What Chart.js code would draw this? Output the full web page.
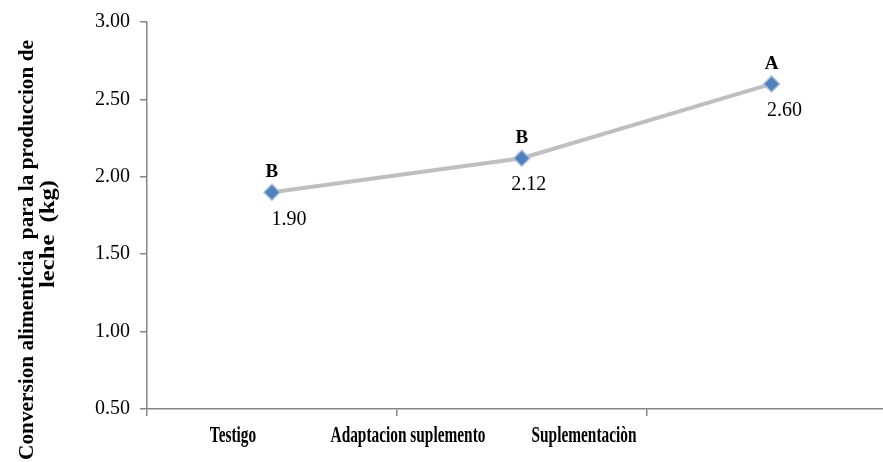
<!DOCTYPE html>
<html>
<head>
<meta charset="utf-8">
<script src="https://cdn.jsdelivr.net/npm/chart.js@4"></script>
<style>
html,body{margin:0;padding:0;background:#fff;overflow:hidden;}
#wrap{width:883px;height:462px;position:relative;overflow:hidden;}
</style>
</head>
<body>
<div id="wrap"><canvas id="c" width="906" height="462"></canvas></div>
<script>
// ---- data ----
const categories = ["Testigo", "Adaptacion suplemento", "Suplementaciòn"];
const values = [1.90, 2.12, 2.60];
const letters = ["B", "B", "A"];
const yTitleLines = ["Conversion alimenticia  para la produccion de", "leche  (kg)"];
const yMin = 0.5, yMax = 3.0, yStep = 0.5;

// ---- styles / positions ----
const SERIF = '"Liberation Serif", "Times New Roman", serif';
const axisColor = '#868686';
const valueDx = [17, 7, 13];
const xLabelCenters = [233, 408, 584]; // visual label positions (px)

const annotPlugin = {
  id: 'annot',
  afterDraw(chart) {
    const ctx = chart.ctx;
    const meta = chart.getDatasetMeta(0);
    ctx.save();
    meta.data.forEach((pt, i) => {
      ctx.fillStyle = '#000';
      ctx.textAlign = 'center';
      ctx.textBaseline = 'middle';
      ctx.font = 'bold 19px ' + SERIF;
      ctx.fillText(letters[i], pt.x, pt.y - 20);
      ctx.font = '20px ' + SERIF;
      ctx.fillText(values[i].toFixed(2), pt.x + valueDx[i], pt.y + 27);
    });
    ctx.font = 'bold 24px ' + SERIF;
    ctx.textAlign = 'center';
    ctx.textBaseline = 'middle';
    categories.forEach((c, i) => {
      ctx.save();
      ctx.translate(xLabelCenters[i], 436);
      ctx.scale(0.64, 1);
      ctx.fillText(c, 0, 0);
      ctx.restore();
    });
    const spans = [[28, 250, 420], [49, 234, 108]];
    ctx.font = 'bold 21px ' + SERIF;
    yTitleLines.forEach((t, i) => {
      const [x, y, len] = spans[i];
      const w = ctx.measureText(t).width;
      ctx.save();
      ctx.translate(x, y);
      ctx.rotate(-Math.PI / 2);
      ctx.scale(len / w, 1);
      ctx.fillText(t, 0, 0);
      ctx.restore();
    });
    ctx.restore();
  }
};

new Chart(document.getElementById('c'), {
  type: 'line',
  data: {
    labels: categories,
    datasets: [{
      data: values,
      borderColor: '#BFBFBF',
      borderWidth: 4,
      pointStyle: 'rectRot',
      pointRadius: 8,
      pointHoverRadius: 8,
      pointBackgroundColor: '#4F81BD',
      pointBorderColor: '#A9BEDC',
      pointBorderWidth: 1.5,
      tension: 0
    }]
  },
  options: {
    responsive: false,
    animation: false,
    devicePixelRatio: 1,
    layout: { padding: { left: 0, right: 3, top: 21, bottom: 0 } },
    plugins: { legend: { display: false }, tooltip: { enabled: false } },
    scales: {
      x: {
        type: 'category',
        offset: true,
        border: { color: axisColor, width: 1.5 },
        grid: { display: true, offset: true, drawOnChartArea: false, drawTicks: true, tickLength: 7, color: axisColor, lineWidth: 1.5 },
        ticks: { color: 'rgba(0,0,0,0)', font: { size: 12 } },
        afterFit(s) { s.height = 53; }
      },
      y: {
        min: yMin, max: yMax,
        border: { color: axisColor, width: 1.5 },
        grid: { display: true, drawOnChartArea: false, drawTicks: true, tickLength: 7, color: axisColor, lineWidth: 1.5 },
        ticks: {
          stepSize: yStep,
          padding: 10,
          color: '#000',
          font: { family: SERIF, size: 20 },
          callback: v => Number(v).toFixed(2)
        },
        afterFit(s) { s.width = 147; }
      }
    }
  },
  plugins: [annotPlugin]
});
</script>
</body>
</html>
